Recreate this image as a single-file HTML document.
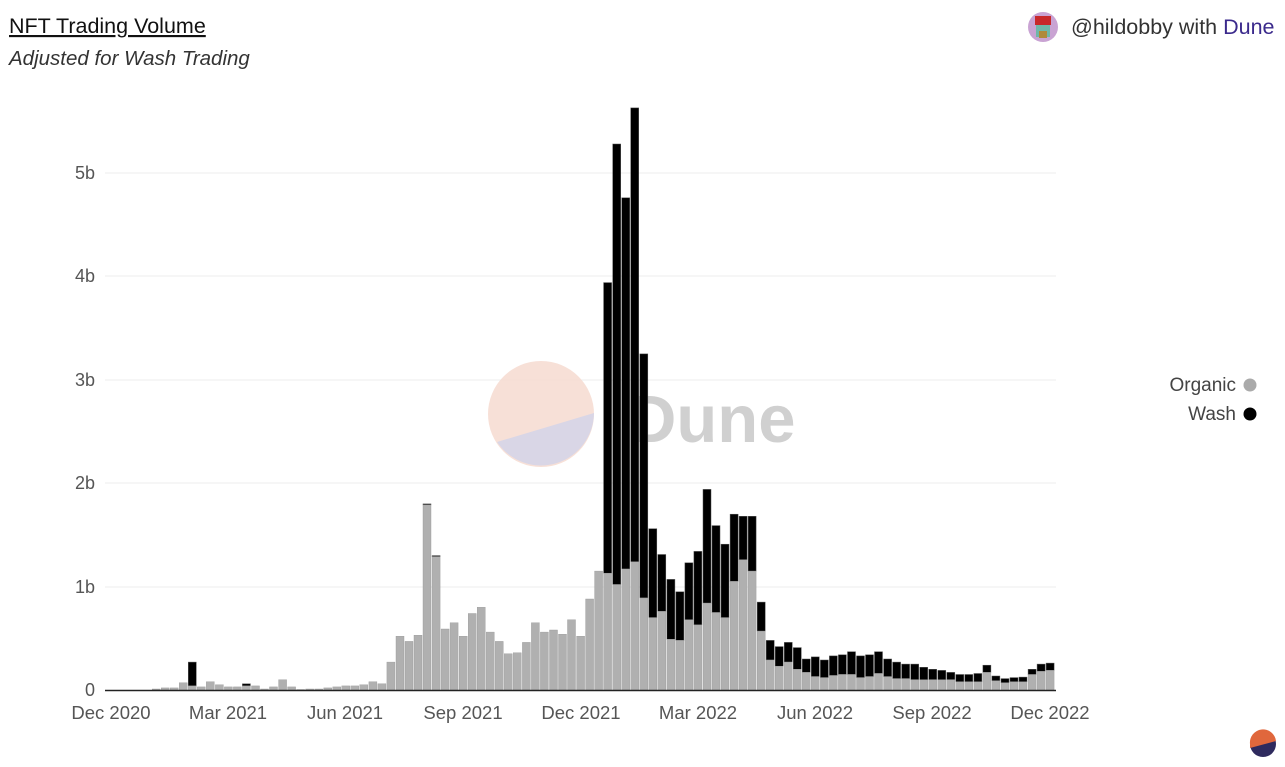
<!DOCTYPE html>
<html><head><meta charset="utf-8"><style>
html,body{margin:0;padding:0;background:#fff;width:1285px;height:767px;overflow:hidden;font-family:"Liberation Sans",sans-serif}
</style></head><body>
<svg id="s" width="1285" height="767" xmlns="http://www.w3.org/2000/svg" style="position:absolute;left:0;top:0">
<text x="9" y="33" font-size="21.5" fill="#111" text-decoration="underline" font-family="Liberation Sans, sans-serif">NFT Trading Volume</text>
<text x="9" y="65" font-size="20.5" fill="#333" font-style="italic" font-family="Liberation Sans, sans-serif">Adjusted for Wash Trading</text>
<circle cx="1043" cy="27" r="15" fill="#c9a3d3"/>
<rect x="1035" y="16" width="16" height="9" fill="#c8282a"/>
<rect x="1036" y="25" width="14" height="12" fill="#6fb7a8"/>
<rect x="1039" y="31" width="8" height="7" fill="#b08a3a"/>
<text x="1071" y="34" font-size="21.5" fill="#333" font-family="Liberation Sans, sans-serif">@hildobby with <tspan fill="#3b2a8c">Dune</tspan></text>
<g stroke="#ececec" stroke-width="1">
<line x1="105" y1="173" x2="1056" y2="173"/><line x1="105" y1="276" x2="1056" y2="276"/>
<line x1="105" y1="380" x2="1056" y2="380"/><line x1="105" y1="483" x2="1056" y2="483"/>
<line x1="105" y1="587" x2="1056" y2="587"/>
</g>
<g font-size="18" fill="#555" text-anchor="end" font-family="Liberation Sans, sans-serif">
<text x="95" y="696">0</text><text x="95" y="593">1b</text><text x="95" y="489">2b</text>
<text x="95" y="386">3b</text><text x="95" y="282">4b</text><text x="95" y="179">5b</text>
</g>
<g font-size="18.5" fill="#555" text-anchor="middle" font-family="Liberation Sans, sans-serif">
<text x="111" y="719">Dec 2020</text><text x="228" y="719">Mar 2021</text><text x="345" y="719">Jun 2021</text>
<text x="463" y="719">Sep 2021</text><text x="581" y="719">Dec 2021</text><text x="698" y="719">Mar 2022</text>
<text x="815" y="719">Jun 2022</text><text x="932" y="719">Sep 2022</text><text x="1050" y="719">Dec 2022</text>
</g>
<circle cx="541" cy="414" r="53" fill="#f6ddd3" fill-opacity="0.9"/>
<path d="M594,413 A53,53 0 0 1 497,442 Z" fill="#d9d6e6"/>
<text x="628" y="442" font-size="67" font-weight="bold" fill="#d0d0d0" font-family="Liberation Sans, sans-serif">Dune</text>
<g id="bars"></g>
<line x1="105" y1="690.5" x2="1056" y2="690.5" stroke="#222" stroke-width="1.5"/>
<g font-size="19" fill="#444" text-anchor="end" font-family="Liberation Sans, sans-serif">
<text x="1236" y="391">Organic</text><text x="1236" y="420">Wash</text>
</g>
<circle cx="1250" cy="385" r="6.5" fill="#aaa"/>
<circle cx="1250" cy="414" r="6.5" fill="#000"/>
<circle cx="1263" cy="744" r="13" fill="#2e2a5e"/>
<path d="M1250,744 A13,13 0 0 1 1276,741 L1250,748 Z" fill="#e0673c"/>
</svg>
<script>
var org=[0,0,0,0,0,0.01,0.02,0.02,0.07,0.04,0.03,0.08,0.05,0.03,0.03,0.04,0.04,0.01,0.03,0.10,0.03,0.005,0.01,0.01,0.02,0.03,0.04,0.04,0.05,0.08,0.06,0.27,0.52,0.47,0.53,1.79,1.29,0.59,0.65,0.52,0.74,0.80,0.56,0.47,0.35,0.36,0.46,0.65,0.56,0.58,0.54,0.68,0.52,0.88,1.15,1.13,1.02,1.17,1.24,0.89,0.70,0.76,0.49,0.48,0.68,0.63,0.84,0.75,0.70,1.05,1.26,1.15,0.57,0.29,0.23,0.27,0.20,0.17,0.13,0.12,0.14,0.15,0.15,0.12,0.13,0.16,0.13,0.11,0.11,0.10,0.10,0.10,0.10,0.10,0.08,0.08,0.08,0.17,0.09,0.07,0.08,0.08,0.15,0.18,0.19];
var tot=[0,0,0,0,0,0.01,0.02,0.02,0.07,0.27,0.03,0.08,0.05,0.03,0.03,0.06,0.04,0.01,0.03,0.10,0.03,0.005,0.01,0.01,0.02,0.03,0.04,0.04,0.05,0.08,0.06,0.27,0.52,0.47,0.53,1.80,1.30,0.59,0.65,0.52,0.74,0.80,0.56,0.47,0.35,0.36,0.46,0.65,0.56,0.58,0.54,0.68,0.52,0.88,1.15,3.94,5.28,4.76,5.63,3.25,1.56,1.31,1.07,0.95,1.23,1.34,1.94,1.59,1.41,1.70,1.68,1.68,0.85,0.48,0.42,0.46,0.41,0.30,0.32,0.29,0.33,0.34,0.37,0.33,0.34,0.37,0.30,0.27,0.25,0.25,0.22,0.20,0.19,0.17,0.15,0.15,0.16,0.24,0.135,0.11,0.12,0.125,0.20,0.25,0.26];
var g=document.getElementById('bars'),h='',k=103.4,b=690;
for(var i=0;i<org.length;i++){var x=111+9.03*i-4;
var o=org[i]*k,t=tot[i]*k;
if(t>o+0.3)h+='<rect x="'+x.toFixed(1)+'" y="'+(b-t).toFixed(1)+'" width="8" height="'+(t-o).toFixed(1)+'" fill="#000" stroke="#555" stroke-width="0.5"/>';
if(o>0)h+='<rect x="'+x.toFixed(1)+'" y="'+(b-o).toFixed(1)+'" width="8" height="'+o.toFixed(1)+'" fill="#b0b0b0" stroke="#999" stroke-width="0.4"/>';}
g.innerHTML=h;
</script>
</body></html>
